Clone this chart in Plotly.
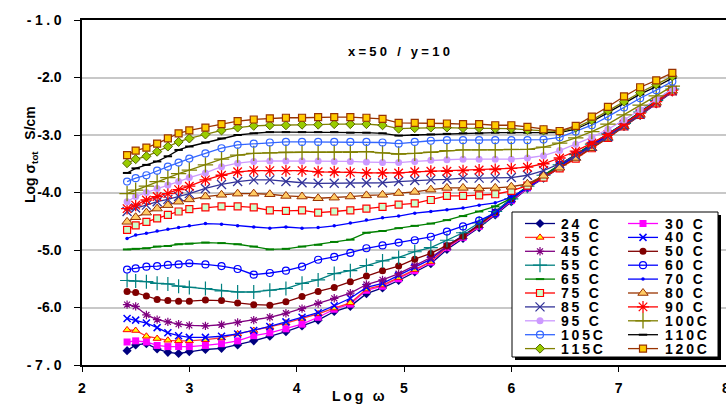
import plotly.graph_objects as go

# ---- data: log total conductivity vs log angular frequency ----
log_w = [2.42, 2.5, 2.6, 2.7, 2.8, 2.9, 3.0, 3.15, 3.3, 3.45, 3.6, 3.75, 3.9, 4.05, 4.2,
         4.35, 4.5, 4.65, 4.8, 4.95, 5.1, 5.25, 5.4, 5.55, 5.7, 5.85, 6.0, 6.15, 6.3,
         6.45, 6.6, 6.75, 6.9, 7.05, 7.2, 7.35, 7.5]

s24 = [-6.75, -6.65, -6.63, -6.72, -6.78, -6.80, -6.77, -6.73, -6.71, -6.65, -6.58, -6.50, -6.42,
       -6.32, -6.22, -6.07, -5.98, -5.76, -5.66, -5.53, -5.38, -5.24, -4.99, -4.80, -4.61,
       -4.39, -4.16, -3.93, -3.75, -3.57, -3.39, -3.21, -3.04, -2.85, -2.66, -2.46, -2.25]
s30 = [-6.60, -6.58, -6.60, -6.66, -6.68, -6.68, -6.68, -6.66, -6.63, -6.58, -6.49, -6.44, -6.37,
       -6.29, -6.17, -6.03, -5.94, -5.70, -5.63, -5.50, -5.36, -5.21, -4.96, -4.78, -4.59,
       -4.37, -4.14, -3.92, -3.74, -3.56, -3.38, -3.20, -3.03, -2.84, -2.65, -2.45, -2.24]
s35 = [-6.39, -6.40, -6.50, -6.54, -6.57, -6.58, -6.58, -6.56, -6.53, -6.46, -6.40, -6.34, -6.27,
       -6.19, -6.11, -6.01, -5.92, -5.68, -5.61, -5.48, -5.34, -5.20, -4.95, -4.77, -4.58,
       -4.36, -4.13, -3.91, -3.73, -3.55, -3.37, -3.19, -3.02, -2.83, -2.64, -2.44, -2.23]
s40 = [-6.19, -6.22, -6.27, -6.35, -6.44, -6.49, -6.52, -6.52, -6.50, -6.46, -6.40, -6.33, -6.25,
       -6.17, -6.09, -5.97, -5.84, -5.65, -5.58, -5.44, -5.30, -5.16, -4.93, -4.75, -4.56,
       -4.34, -4.11, -3.90, -3.72, -3.54, -3.36, -3.18, -3.01, -2.82, -2.63, -2.43, -2.22]
s45 = [-5.95, -5.98, -6.13, -6.21, -6.25, -6.29, -6.31, -6.32, -6.30, -6.26, -6.22, -6.17, -6.10,
       -6.02, -5.93, -5.84, -5.75, -5.60, -5.52, -5.41, -5.27, -5.13, -4.94, -4.76, -4.56,
       -4.34, -4.11, -3.90, -3.72, -3.53, -3.35, -3.17, -3.00, -2.81, -2.62, -2.42, -2.22]
s50 = [-5.72, -5.74, -5.80, -5.86, -5.88, -5.89, -5.89, -5.87, -5.88, -5.92, -5.95, -5.96, -5.90,
       -5.81, -5.72, -5.65, -5.55, -5.45, -5.36, -5.28, -5.16, -5.06, -4.92, -4.76, -4.56,
       -4.34, -4.11, -3.89, -3.71, -3.52, -3.34, -3.16, -2.99, -2.80, -2.61, -2.41, -2.21]
s55 = [-5.53, -5.54, -5.55, -5.58, -5.59, -5.63, -5.65, -5.67, -5.71, -5.73, -5.73, -5.70, -5.67,
       -5.58, -5.52, -5.41, -5.36, -5.27, -5.19, -5.13, -5.03, -4.96, -4.83, -4.70, -4.53,
       -4.33, -4.11, -3.89, -3.70, -3.52, -3.34, -3.16, -2.98, -2.80, -2.60, -2.40, -2.20]
s60 = [-5.34, -5.32, -5.29, -5.28, -5.26, -5.25, -5.23, -5.25, -5.28, -5.33, -5.43, -5.40, -5.36,
       -5.29, -5.17, -5.12, -5.05, -4.97, -4.92, -4.87, -4.83, -4.77, -4.68, -4.59, -4.49,
       -4.36, -4.12, -3.90, -3.71, -3.52, -3.34, -3.16, -2.98, -2.80, -2.60, -2.40, -2.20]
s65 = [-4.99, -4.98, -4.97, -4.94, -4.93, -4.90, -4.89, -4.87, -4.88, -4.90, -4.94, -4.99, -4.98,
       -4.94, -4.91, -4.86, -4.82, -4.70, -4.67, -4.62, -4.58, -4.54, -4.48, -4.41, -4.33,
       -4.24, -4.10, -3.89, -3.70, -3.52, -3.34, -3.16, -2.98, -2.80, -2.60, -2.40, -2.20]
s70 = [-4.80, -4.74, -4.71, -4.67, -4.64, -4.61, -4.58, -4.54, -4.55, -4.58, -4.60, -4.62, -4.60,
       -4.62, -4.61, -4.58, -4.53, -4.48, -4.44, -4.41, -4.36, -4.33, -4.30, -4.27, -4.22,
       -4.18, -4.08, -3.92, -3.73, -3.54, -3.36, -3.18, -3.00, -2.81, -2.62, -2.42, -2.22]
s75 = [-4.65, -4.57, -4.51, -4.45, -4.39, -4.33, -4.29, -4.26, -4.24, -4.24, -4.26, -4.31, -4.32,
       -4.31, -4.35, -4.33, -4.31, -4.28, -4.25, -4.21, -4.19, -4.13, -4.06, -4.06, -4.05,
       -4.03, -3.97, -3.88, -3.74, -3.58, -3.41, -3.23, -3.05, -2.85, -2.65, -2.45, -2.24]
s80 = [-4.51, -4.43, -4.35, -4.28, -4.22, -4.16, -4.12, -4.07, -4.04, -4.02, -4.02, -4.03, -4.06,
       -4.07, -4.10, -4.09, -4.07, -4.05, -4.04, -4.01, -3.99, -3.95, -3.92, -3.92, -3.93,
       -3.92, -3.90, -3.85, -3.71, -3.57, -3.40, -3.23, -3.05, -2.85, -2.65, -2.44, -2.23]
s85 = [-4.33, -4.27, -4.22, -4.16, -4.12, -4.07, -4.02, -3.93, -3.86, -3.81, -3.78, -3.78, -3.81,
       -3.83, -3.84, -3.84, -3.84, -3.83, -3.83, -3.81, -3.79, -3.78, -3.77, -3.75, -3.75,
       -3.75, -3.74, -3.70, -3.62, -3.50, -3.36, -3.20, -3.03, -2.84, -2.64, -2.43, -2.23]
s90 = [-4.28, -4.22, -4.13, -4.07, -4.02, -3.95, -3.89, -3.78, -3.70, -3.64, -3.62, -3.62, -3.62,
       -3.62, -3.64, -3.64, -3.65, -3.66, -3.66, -3.66, -3.64, -3.63, -3.63, -3.62, -3.61,
       -3.60, -3.58, -3.56, -3.50, -3.40, -3.28, -3.14, -2.99, -2.81, -2.62, -2.42, -2.22]
s95 = [-4.16, -4.07, -4.00, -3.93, -3.87, -3.81, -3.74, -3.66, -3.55, -3.49, -3.46, -3.45, -3.45,
       -3.45, -3.45, -3.46, -3.46, -3.47, -3.48, -3.48, -3.46, -3.44, -3.43, -3.42, -3.42,
       -3.42, -3.42, -3.40, -3.36, -3.27, -3.16, -3.04, -2.90, -2.74, -2.56, -2.38, -2.20]
s100 = [-4.02, -3.96, -3.89, -3.81, -3.74, -3.67, -3.61, -3.52, -3.42, -3.35, -3.32, -3.31, -3.30,
        -3.30, -3.30, -3.30, -3.30, -3.29, -3.31, -3.33, -3.32, -3.30, -3.27, -3.26, -3.26,
        -3.26, -3.25, -3.25, -3.21, -3.14, -3.05, -2.94, -2.81, -2.65, -2.48, -2.32, -2.15]
s105 = [-3.81, -3.75, -3.70, -3.62, -3.55, -3.48, -3.41, -3.32, -3.23, -3.17, -3.15, -3.13, -3.12,
        -3.12, -3.12, -3.12, -3.12, -3.12, -3.13, -3.15, -3.12, -3.10, -3.09, -3.09, -3.09,
        -3.09, -3.09, -3.09, -3.08, -3.04, -2.94, -2.83, -2.68, -2.52, -2.36, -2.22, -2.07]
s110 = [-3.66, -3.58, -3.52, -3.46, -3.37, -3.26, -3.20, -3.13, -3.06, -3.00, -2.97, -2.95, -2.95,
        -2.95, -2.95, -2.95, -2.96, -2.96, -2.97, -3.01, -3.00, -2.99, -2.98, -2.97, -2.97,
        -2.96, -2.96, -2.96, -2.97, -2.96, -2.90, -2.77, -2.61, -2.45, -2.29, -2.16, -2.01]
s115 = [-3.49, -3.42, -3.37, -3.29, -3.20, -3.12, -3.06, -2.99, -2.92, -2.87, -2.84, -2.83, -2.83,
        -2.82, -2.82, -2.81, -2.81, -2.81, -2.83, -2.89, -2.88, -2.87, -2.87, -2.88, -2.88,
        -2.89, -2.89, -2.91, -2.92, -2.94, -2.87, -2.74, -2.58, -2.42, -2.26, -2.12, -1.98]
s120 = [-3.35, -3.27, -3.22, -3.15, -3.06, -2.97, -2.92, -2.87, -2.81, -2.76, -2.73, -2.71, -2.70,
        -2.70, -2.69, -2.69, -2.69, -2.70, -2.72, -2.79, -2.79, -2.79, -2.80, -2.81, -2.81,
        -2.83, -2.83, -2.86, -2.90, -2.93, -2.84, -2.68, -2.51, -2.33, -2.17, -2.05, -1.92]

labels = ["24 C", "30 C", "35 C", "40 C", "45 C", "50 C", "55 C", "60 C", "65 C", "70 C",
          "75 C", "80 C", "85 C", "90 C", "95 C", "100C", "105C", "110C", "115C", "120C"]
series = [s24, s30, s35, s40, s45, s50, s55, s60, s65, s70,
          s75, s80, s85, s90, s95, s100, s105, s110, s115, s120]

y_ticks = [-7, -6, -5, -4, -3, -2, -1]
x_ticks = [2, 3, 4, 5, 6, 7, 8]

# ---- styling per temperature: (line colour, marker symbol, size, fill, edge, edge width)
styles = [
    ("#000080", "diamond", 7, "#000080", "#000080", 0),
    ("#FF00FF", "square", 7, "#FF00FF", "#FF00FF", 0),
    ("#FF3333", "triangle-up", 7, "#FFFF00", "#FF0000", 1),
    ("#0000FF", "x-thin-open", 7, "#0000FF", "#0000FF", 1.5),
    ("#800080", "asterisk-open", 7, "#800080", "#800080", 1.2),
    ("#800000", "circle", 7, "#800000", "#800000", 0),
    ("#008080", "cross-thin-open", 10, "#008080", "#008080", 1.2),
    ("#0000FF", "circle-open", 7, "#0000FF", "#0000FF", 1.2),
    ("#008000", "line-ew-open", 6, "#008000", "#008000", 2),
    ("#0000FF", "circle", 3.5, "#0000FF", "#0000FF", 0),
    ("#FF0000", "square", 7, "#CCFFCC", "#FF0000", 1.2),
    ("#993300", "triangle-up", 9, "#FFCC66", "#993300", 1),
    ("#333399", "x-thin-open", 9, "#333399", "#333399", 1.3),
    ("#FF0000", "asterisk-open", 10, "#FF0000", "#FF0000", 1.3),
    ("#CC99FF", "circle", 7, "#CC99FF", "#CC99FF", 0),
    ("#808000", "cross-thin-open", 11, "#808000", "#808000", 1.3),
    ("#3366FF", "circle-open", 7, "#3366FF", "#3366FF", 1.2),
    ("#000000", "line-ew-open", 6, "#000000", "#000000", 2),
    ("#808000", "diamond", 7, "#99CC00", "#556600", 1),
    ("#993300", "square", 7, "#FFCC00", "#993300", 1.2),
]

FONT = "Arial, Liberation Sans, sans-serif"
W, H = 726, 405
ML, MR, MT, MB = 82, 0, 20, 40
PW, PH = W - ML - MR, H - MT - MB


def spaced(text, gap="\u2009"):
    return gap.join(text)


def fx(px):
    return (px - ML) / PW


def fy(py):
    return (H - MB - py) / PH


def y_label(v):
    s = f"{v:.1f}"
    # the end labels of the scale are set wide, the inner ones tight
    return spaced(s, "\u2005") if v in (y_ticks[0], y_ticks[-1]) else s


fig = go.Figure()

for lab, ys, (lc, sym, sz, fill, edge, ew) in zip(labels, series, styles):
    fig.add_trace(go.Scatter(
        x=log_w, y=ys, mode="lines+markers", name=lab, showlegend=False,
        line=dict(color=lc, width=1.3),
        marker=dict(symbol=sym, size=sz, color=fill, line=dict(color=edge, width=ew)),
    ))

# ---- hand-built two-column legend drawn on an overlay axis pair ----
box_l, box_r, box_t, box_b = 512, 718, 212, 357
sh = 3
fig.add_trace(go.Scatter(
    x=[fx(box_l + sh), fx(box_r + sh), fx(box_r + sh), fx(box_l + sh), fx(box_l + sh)],
    y=[fy(box_t + sh), fy(box_t + sh), fy(box_b + sh), fy(box_b + sh), fy(box_t + sh)],
    mode="lines", fill="toself", fillcolor="#000000", line=dict(color="#000000", width=0),
    xaxis="x2", yaxis="y2", showlegend=False, hoverinfo="skip"))
fig.add_trace(go.Scatter(
    x=[fx(box_l), fx(box_r), fx(box_r), fx(box_l), fx(box_l)],
    y=[fy(box_t), fy(box_t), fy(box_b), fy(box_b), fy(box_t)],
    mode="lines", fill="toself", fillcolor="#FFFFFF", line=dict(color="#000000", width=1),
    xaxis="x2", yaxis="y2", showlegend=False, hoverinfo="skip"))

row0, row_step = 223.5, 13.9
col_line = [525, 628]
col_text = [559, 663]
annotations = []
for i, (lab, (lc, sym, sz, fill, edge, ew)) in enumerate(zip(labels, styles)):
    r, c = divmod(i, 2)
    yy = fy(row0 + r * row_step)
    x0, x1 = col_line[c], col_line[c] + 30
    fig.add_trace(go.Scatter(
        x=[fx(x0), fx(x1)], y=[yy, yy], mode="lines", line=dict(color=lc, width=1.3),
        xaxis="x2", yaxis="y2", showlegend=False, hoverinfo="skip"))
    fig.add_trace(go.Scatter(
        x=[fx((x0 + x1) / 2)], y=[yy], mode="markers",
        marker=dict(symbol=sym, size=sz, color=fill, line=dict(color=edge, width=ew)),
        xaxis="x2", yaxis="y2", showlegend=False, hoverinfo="skip"))
    annotations.append(dict(
        x=fx(col_text[c]), y=yy, xref="paper", yref="paper", text=spaced(lab),
        showarrow=False, xanchor="left", yanchor="middle",
        font=dict(family=FONT, size=14, color="#000000", weight="bold")))

annotations += [
    dict(x=fx(399), y=fy(51), xref="paper", yref="paper", text=spaced("x=50 / y=10", "\u2005"),
         showarrow=False, xanchor="center", yanchor="middle",
         font=dict(family=FONT, size=13, color="#000000", weight="bold")),
    dict(x=fx(358), y=fy(396), xref="paper", yref="paper", text=spaced("Log ω"),
         showarrow=False, xanchor="center", yanchor="middle",
         font=dict(family=FONT, size=14, color="#000000", weight="bold")),
    dict(x=fx(31), y=fy(155), xref="paper", yref="paper", textangle=-90,
         text="Log σ<sub>tot</sub>   S/cm",
         showarrow=False, xanchor="center", yanchor="middle",
         font=dict(family=FONT, size=14, color="#000000", weight="bold")),
]

tick_font = dict(family=FONT, size=14, color="#000000", weight="bold")
fig.update_layout(
    width=W, height=H, margin=dict(l=ML, r=MR, t=MT, b=MB, autoexpand=False),
    paper_bgcolor="white", plot_bgcolor="white", showlegend=False,
    annotations=annotations,
    xaxis=dict(range=[2, 8], tickvals=x_ticks, ticktext=[str(v) for v in x_ticks],
               showgrid=False, zeroline=False, showline=True, linecolor="#000000",
               linewidth=1.5, mirror=True, ticks="outside", ticklen=5, tickwidth=1,
               tickcolor="#000000", tickfont=tick_font, ticklabelstandoff=4,
               ticklabeloverflow="allow"),
    yaxis=dict(range=[-7, -1], tickvals=y_ticks,
               ticktext=[y_label(v) for v in y_ticks],
               showgrid=True, gridcolor="#C8C8C8", gridwidth=1.5, zeroline=False,
               showline=True, linecolor="#000000", linewidth=1.5, ticks="outside",
               ticklen=6, tickwidth=1, tickcolor="#000000", tickfont=tick_font,
               ticklabelstandoff=10),
    xaxis2=dict(overlaying="x", anchor="y2", range=[0, 1], visible=False, fixedrange=True),
    yaxis2=dict(overlaying="y", anchor="x2", range=[0, 1], visible=False, fixedrange=True),
)

fig.write_html("out.html")
